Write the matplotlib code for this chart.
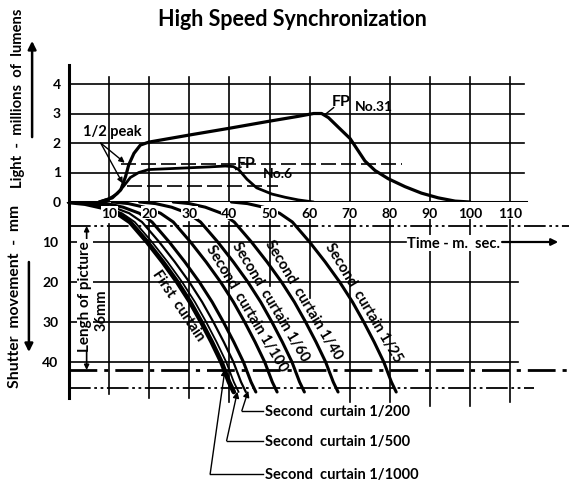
import numpy as np
import matplotlib
matplotlib.use("Agg")
import matplotlib.pyplot as plt

# ---------------------------------------------------------------- data ---#

light_ticks = [0, 1, 2, 3, 4]
mm_ticks = [10, 20, 30, 40]
time_ticks = [10, 20, 30, 40, 50, 60, 70, 80, 90, 100, 110]

# flash bulb light output, millions of lumens vs ms
fp31_t = [7.5, 10.8, 12.9, 14.1, 14.9, 16.2, 17.8, 19.9, 30, 40, 50, 57, 61, 63,
          64.7, 67.2, 70.1, 72.2, 73.8, 76.3, 79.6, 83.8, 87.9, 92.1, 96.3, 100]
fp31_l = [0, 0.14, 0.41, 0.86, 1.26, 1.65, 1.93, 2.03, 2.27, 2.5, 2.74, 2.9, 3.0, 3.0,
          2.86, 2.53, 2.15, 1.72, 1.39, 1.07, 0.79, 0.52, 0.30, 0.14, 0.03, 0]

fp6_t = [7.5, 10, 12, 13.7, 15.3, 17.4, 19.9, 25, 30, 35, 39, 41,
         42.3, 44.4, 46.8, 50.6, 53.9, 57.2, 61]
fp6_l = [0, 0.11, 0.28, 0.55, 0.83, 1.0, 1.1, 1.13, 1.16, 1.19, 1.22, 1.2,
         1.1, 0.77, 0.48, 0.27, 0.16, 0.07, 0]

half_peak = [1.28, 0.55]

# first curtain travel, ms vs mm
first_t = [0, 4, 8, 12, 15.2, 19.5, 23.4, 27.0, 30.2, 33.0, 35.6, 38.0, 39.9, 41.1]
first_mm = [0, 0.4, 1.3, 2.8, 5, 10, 15, 20, 25, 30, 35, 40, 45, 47.5]

# second curtains: lag behind the first one (ms)
second_names = ["1/1000", "1/500", "1/200", "1/100", "1/60", "1/40", "1/25"]
second_delay = [1.2, 3.0, 5.5, 10.8, 17.6, 26.0, 40.5]

#----------------------------------------------------------------------------#

plt.rcParams['font.family'] = ['Lato', 'DejaVu Sans']
plt.rcParams['font.weight'] = 'bold'

W, H = 569, 485
X0, XS = 69, 4.01          # px of t=0, px per ms
Y0, LS, MS = 203, 29.5, 4.0  # px of zero line, px per Mlm, px per mm
K = 'black'
WHITE_BOX = dict(facecolor='white', edgecolor='none', pad=0.6)

fig = plt.figure(figsize=(W / 100, H / 100), dpi=100)
xlim = (-X0 / XS, (W - X0) / XS)

ax_t = fig.add_axes([0, (H - Y0) / H, 1, Y0 / H])
ax_t.set_xlim(*xlim); ax_t.set_ylim(0, Y0 / LS); ax_t.axis('off')

ax_b = fig.add_axes([0, 0, 1, (H - Y0) / H])
ax_b.set_xlim(*xlim); ax_b.set_ylim((H - Y0) / MS, 0); ax_b.axis('off')

#---------------------------------------------------------------- upper ---#

for t in time_ticks:
    ax_t.plot([t, t], [0, 4.25], color=K, lw=1.2)
for v in light_ticks[1:]:
    ax_t.plot([0, 113.5], [v, v], color=K, lw=1.2)
ax_t.plot([0, 114], [0, 0], color=K, lw=2.2)
ax_t.plot([0, 0], [0, 4.65], color=K, lw=2.2)

for v in light_ticks:
    ax_t.text(-3, v, str(v), ha='center', va='center', fontsize=10)

ax_t.plot([13, 83], [half_peak[0]] * 2, color=K, lw=1.2, dashes=(9, 3))
ax_t.plot([14.5, 52], [half_peak[1]] * 2, color=K, lw=1.2, dashes=(9, 3))

ax_t.plot(fp31_t, fp31_l, color=K, lw=2.3, solid_capstyle='round')
ax_t.plot(fp6_t, fp6_l, color=K, lw=2.0, solid_capstyle='round')

ax_t.text(10.8, 2.42, "1/2 peak", ha='center', va='center', fontsize=10.5)
for end in [(13.9, 1.33), (13.4, 0.63)]:
    ax_t.annotate("", xy=end, xytext=(7.9, 2.0),
                  arrowprops=dict(arrowstyle='-|>', color=K, lw=1.0, mutation_scale=8,
                                  shrinkA=0, shrinkB=0))

ax_t.text(67.9, 3.41, "FP", ha='center', va='center', fontsize=11.5)
ax_t.text(76.1, 3.24, "No.31", ha='center', va='center', fontsize=10)
ax_t.plot([66.0, 64.0], [3.2, 2.98], color=K, lw=1.0)
ax_t.text(44.2, 1.32, "FP", ha='center', va='center', fontsize=11.5)
ax_t.text(52.2, 0.98, "No.6", ha='center', va='center', fontsize=10)
ax_t.plot([42.9, 41.6], [1.18, 1.1], color=K, lw=1.0)

ax_t.text(-12.7, 0.51, "Light  -  millions  of  lumens", rotation=90,
          rotation_mode='anchor', ha='left', va='center', fontsize=10.6)
ax_t.annotate("", xy=(-9.2, 5.46), xytext=(-9.2, 2.2),
              arrowprops=dict(arrowstyle='-|>', color=K, lw=1.8, mutation_scale=12,
                              shrinkA=0, shrinkB=0))

fig.text(292 / W, 1 - 19 / H, "High Speed Synchronization", ha='center', va='center',
         fontsize=15.5)

#---------------------------------------------------------------- lower ---#

ax_b.plot([0, 0], [0, 49], color=K, lw=2.2)
for m in mm_ticks:
    ax_b.text(-4.7, m, str(m), ha='center', va='center', fontsize=10)

vspan = {10: (5.5, 48), 20: (5, 49), 30: (5, 49), 40: (5, 50), 50: (4, 21), 60: (4, 24),
         70: (4, 50), 80: (4, 50), 90: (4, 51), 100: (4, 51), 110: (4, 50)}
for t in time_ticks:
    ax_b.plot([t, t], vspan[t], color=K, lw=1.2)

ax_b.plot([0, 84], [10, 10], color=K, lw=1.2)
for m in mm_ticks[1:]:
    ax_b.plot([0, 112], [m, m], color=K, lw=1.2)

ax_b.plot([0, xlim[1]], [6, 6], color=K, lw=1.3, dashes=(12, 2, 1.5, 2, 1.5, 2))
ax_b.plot([0, xlim[1]], [42, 42], color=K, lw=2.0, dashes=(10, 2.5, 1.5, 2.5))
ax_b.plot([0, 116], [46.5, 46.5], color=K, lw=1.3, dashes=(12, 2, 1.5, 2, 1.5, 2))

ax_b.text(96, 10.2, "Time - m.  sec.", ha='center', va='center', fontsize=10.5,
          bbox=WHITE_BOX)
ax_b.annotate("", xy=(122, 10), xytext=(108, 10),
              arrowprops=dict(arrowstyle='-|>', color=K, lw=1.6, mutation_scale=10,
                              shrinkA=0, shrinkB=0))

# curtains
ft = np.array(first_t)
ax_b.plot(ft, first_mm, color=K, lw=3.4, solid_capstyle='round')
widths = [1.3, 1.6, 2.2, 2.2, 2.2, 2.2, 2.2]
for d, lw in zip(second_delay, widths):
    ax_b.plot(ft + d, first_mm, color=K, lw=lw, solid_capstyle='round')

# time labels sit over the start of the curtain curves
for t in time_ticks:
    ax_b.text(t, 2.7, str(t), ha='center', va='center', fontsize=10, zorder=5,
              bbox=dict(facecolor='white', edgecolor='none', pad=0.3))

ax_b.text(27.2, 25.7, "First  curtain", rotation=-56, rotation_mode='anchor',
          ha='center', va='center', fontsize=10.5)
labels = [("1/100", 44.3, 26.3), ("1/60", 50.3, 24.8),
          ("1/40", 58.4, 24.3), ("1/25", 73.4, 25.1)]
for name, t, m in labels:
    ax_b.text(t, m, "Second  curtain " + name, rotation=-59, rotation_mode='anchor',
              ha='center', va='center', fontsize=10.5)

# length of picture
ax_b.annotate("", xy=(4.4, 6), xytext=(4.4, 42),
              arrowprops=dict(arrowstyle='<|-|>', color=K, lw=1.2, mutation_scale=7,
                              shrinkA=0, shrinkB=0))
ax_b.text(4.0, 23.3, "Lengh of picture", rotation=90, ha='center', va='center',
          fontsize=11, bbox=WHITE_BOX)
ax_b.text(8.0, 26.7, "36mm", rotation=90, ha='center', va='center', fontsize=10.5)

# leaders to the fast second curtains
leaders = [("1/200", 52.2, 43.1, (44.7, 47.2)),
           ("1/500", 59.7, 39.3, (42.0, 47.4)),
           ("1/1000", 68.0, 35.2, (38.9, 41.8))]
for name, m, tx, end in leaders:
    ax_b.plot([48.4, tx], [m, m], color=K, lw=1.0)
    ax_b.annotate("", xy=end, xytext=(tx, m),
                  arrowprops=dict(arrowstyle='-|>', color=K, lw=1.0, mutation_scale=9,
                                  shrinkA=0, shrinkB=0))
    ax_b.text(49.0, m, "Second  curtain " + name, ha='left', va='center', fontsize=10.5)

ax_b.text(-13.5, 46.25, "Shutter  movement  -  mm", rotation=90, rotation_mode='anchor',
          ha='left', va='center', fontsize=11.3)
ax_b.annotate("", xy=(-10, 37.5), xytext=(-10, 15),
              arrowprops=dict(arrowstyle='-|>', color=K, lw=1.8, mutation_scale=12,
                              shrinkA=0, shrinkB=0))

fig.savefig("out.png", dpi=100, facecolor='white')
